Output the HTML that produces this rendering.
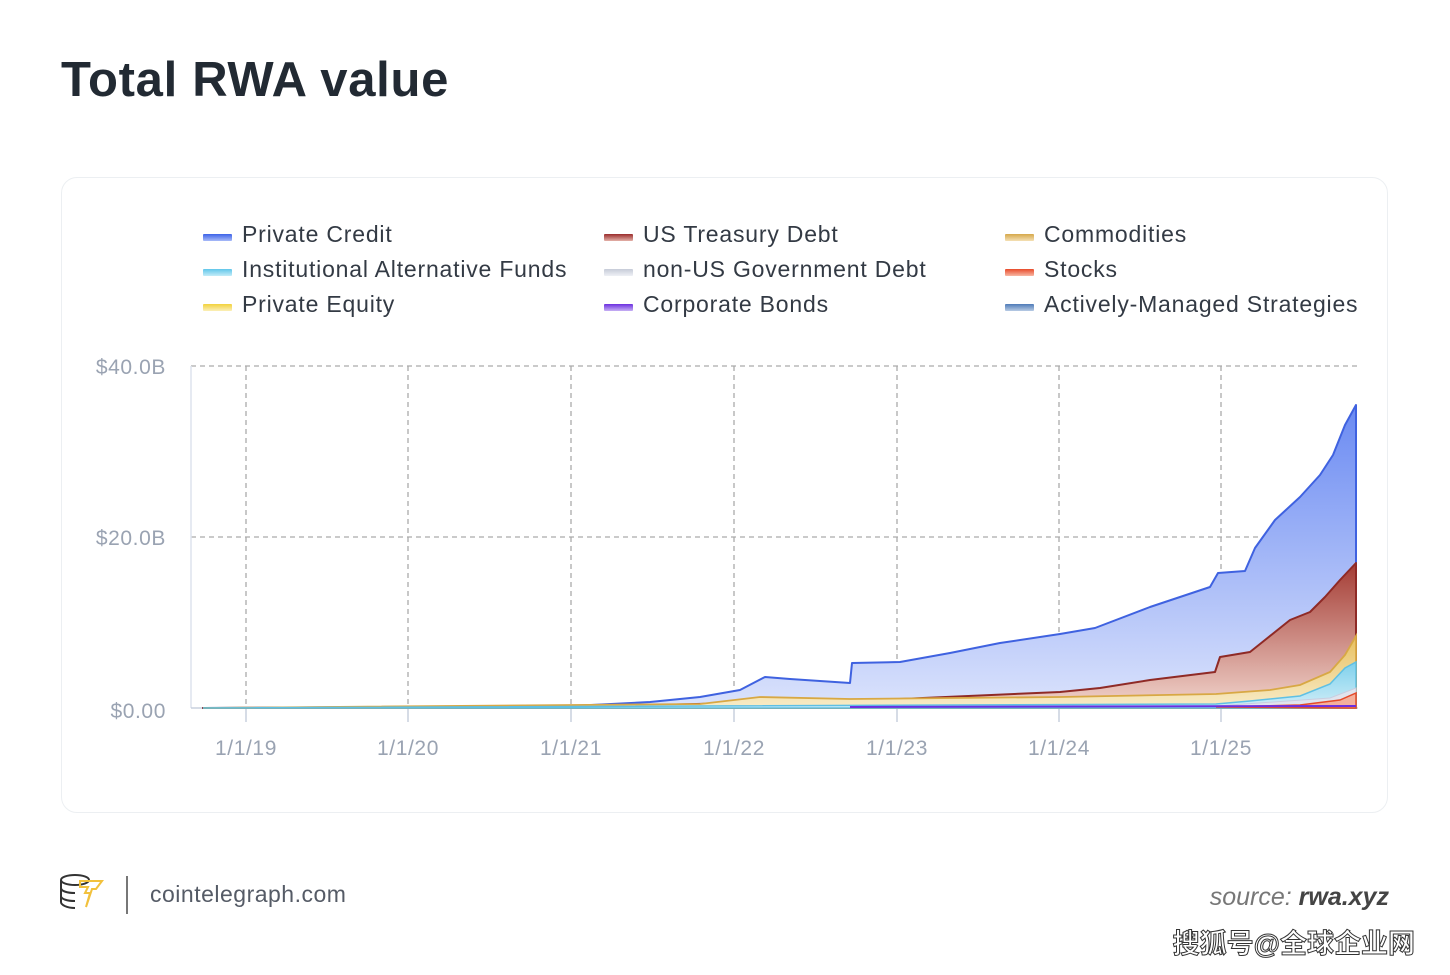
<!DOCTYPE html>
<html><head><meta charset="utf-8"><style>
body{margin:0;width:1450px;height:975px;background:#fff;font-family:"Liberation Sans",sans-serif;position:relative;overflow:hidden}
.t{position:absolute;left:61px;top:52px;font-size:49px;font-weight:bold;color:#222a33;letter-spacing:0.7px}
.card{position:absolute;left:61px;top:177px;width:1327px;height:636px;border:1.5px solid #eceff2;border-radius:16px;box-sizing:border-box}
.lg{position:absolute;font-size:23px;color:#333a44;letter-spacing:0.8px}
.sw{position:absolute;width:29px;height:7px;border-radius:1px}
</style></head><body>
<div class="t">Total RWA value</div>
<div class="card"></div>
<div class="sw" style="left:203px;top:234px;background:linear-gradient(#3d63e8,#a8baf8)"></div><div class="lg" style="left:242px;top:221px">Private Credit</div>
<div class="sw" style="left:203px;top:269px;background:linear-gradient(#60c6ea,#c3ecf8)"></div><div class="lg" style="left:242px;top:256px">Institutional Alternative Funds</div>
<div class="sw" style="left:203px;top:304px;background:linear-gradient(#f2d23c,#fbefb8)"></div><div class="lg" style="left:242px;top:291px">Private Equity</div>
<div class="sw" style="left:604px;top:234px;background:linear-gradient(#9a2c2c,#e3b1a8)"></div><div class="lg" style="left:643px;top:221px">US Treasury Debt</div>
<div class="sw" style="left:604px;top:269px;background:linear-gradient(#c6cbd8,#eef0f5)"></div><div class="lg" style="left:643px;top:256px">non-US Government Debt</div>
<div class="sw" style="left:604px;top:304px;background:linear-gradient(#6b2fe0,#c6b0f4)"></div><div class="lg" style="left:643px;top:291px">Corporate Bonds</div>
<div class="sw" style="left:1005px;top:234px;background:linear-gradient(#d6a84a,#f4e0b5)"></div><div class="lg" style="left:1044px;top:221px">Commodities</div>
<div class="sw" style="left:1005px;top:269px;background:linear-gradient(#e84a2a,#f8b8a4)"></div><div class="lg" style="left:1044px;top:256px">Stocks</div>
<div class="sw" style="left:1005px;top:304px;background:linear-gradient(#4f7bb8,#b8cbe4)"></div><div class="lg" style="left:1044px;top:291px">Actively-Managed Strategies</div>
<svg width="1450" height="975" style="position:absolute;left:0;top:0">
<defs>
<linearGradient id="gb" x1="0" y1="0" x2="0" y2="1"><stop offset="0" stop-color="#6a8af2"/><stop offset="1" stop-color="#dbe3fc"/></linearGradient>
<linearGradient id="gr" x1="0" y1="0" x2="0" y2="1"><stop offset="0" stop-color="#a43c34"/><stop offset="1" stop-color="#f1d4cc"/></linearGradient>
<linearGradient id="gy" x1="0" y1="0" x2="0" y2="1"><stop offset="0" stop-color="#e8c060"/><stop offset="1" stop-color="#f8ecc8"/></linearGradient>
<linearGradient id="gc" x1="0" y1="0" x2="0" y2="1"><stop offset="0" stop-color="#7ed0ec"/><stop offset="1" stop-color="#d0eef8"/></linearGradient>
</defs>
<g stroke="#aaa" stroke-width="1.3" stroke-dasharray="5,4" fill="none">
<line x1="191" y1="366" x2="1358" y2="366"/><line x1="191" y1="537" x2="1358" y2="537"/>
<line x1="246" y1="366" x2="246" y2="708"/><line x1="408" y1="366" x2="408" y2="708"/><line x1="571" y1="366" x2="571" y2="708"/><line x1="734" y1="366" x2="734" y2="708"/><line x1="897" y1="366" x2="897" y2="708"/><line x1="1059" y1="366" x2="1059" y2="708"/><line x1="1221" y1="366" x2="1221" y2="708"/>
</g>
<line x1="191" y1="366" x2="191" y2="708" stroke="#dde3ee" stroke-width="1.5"/>
<line x1="191" y1="708" x2="1358" y2="708" stroke="#c8d0de" stroke-width="1.5"/>
<g stroke="#c8d0de" stroke-width="1.5"><line x1="246" y1="708" x2="246" y2="722"/><line x1="408" y1="708" x2="408" y2="722"/><line x1="571" y1="708" x2="571" y2="722"/><line x1="734" y1="708" x2="734" y2="722"/><line x1="897" y1="708" x2="897" y2="722"/><line x1="1059" y1="708" x2="1059" y2="722"/><line x1="1221" y1="708" x2="1221" y2="722"/></g>
<polygon fill="url(#gb)" stroke="#3f62e0" stroke-width="2" stroke-linejoin="round" points="203,708 571,706 650,702 700,697 740,690 765,677 790,679 850,683 852,663 900,662 950,653 1000,643 1060,634 1095,628 1150,607 1210,587 1218,573 1245,571 1255,548 1275,520 1300,497 1320,475 1333,455 1345,425 1356,405 1356,708"/>
<polygon fill="url(#gr)" stroke="#8f2a26" stroke-width="2" stroke-linejoin="round" points="203,708 571,707 900,699 1060,692 1100,688 1150,680 1215,672 1220,657 1250,652 1265,640 1290,620 1310,612 1325,597 1340,580 1356,563 1356,708"/>
<polygon fill="url(#gy)" stroke="#d8a844" stroke-width="1.8" points="203,708 700,704 760,697 850,699 1060,697 1216,694 1270,690 1300,685 1330,672 1345,655 1356,636 1356,708"/>
<polygon fill="url(#gc)" stroke="#5ec0e4" stroke-width="1.5" points="203,708 1216,704 1250,701 1300,696 1330,684 1345,668 1356,662 1356,708"/>
<polygon fill="#e0e4ee" stroke="#c8cee0" points="1216,706 1330,698 1356,688 1356,708"/>
<polygon fill="#f4b09c" stroke="#e44a2a" stroke-width="1.5" points="1216,707 1300,705 1340,700 1356,693 1356,708"/>
<line x1="850" y1="707" x2="1356" y2="706" stroke="#6b2fe0" stroke-width="2"/>
<g font-size="21" fill="#9aa3b2" font-family="Liberation Sans,sans-serif" letter-spacing="0.6">
<text x="166" y="374" text-anchor="end">$40.0B</text><text x="166" y="545" text-anchor="end">$20.0B</text><text x="166" y="718" text-anchor="end">$0.00</text>
<g text-anchor="middle"><text x="246" y="755">1/1/19</text><text x="408" y="755">1/1/20</text><text x="571" y="755">1/1/21</text><text x="734" y="755">1/1/22</text><text x="897" y="755">1/1/23</text><text x="1059" y="755">1/1/24</text><text x="1221" y="755">1/1/25</text></g>
</g>
<g fill="none" stroke="#333" stroke-width="2"><ellipse cx="75" cy="880" rx="14" ry="5"/><path d="M61 880v22c0 3 6 6 14 6M61 888c0 3 6 5 14 5M61 896c0 3 6 5 14 5"/></g>
<path d="M80 881h22l-6 8h-4l-6 18 4-14h-5l3-6h-8z" fill="none" stroke="#f2c13c" stroke-width="2"/>
<line x1="127" y1="876" x2="127" y2="914" stroke="#777" stroke-width="2"/>
<text x="150" y="902" font-size="23" fill="#555b66" font-family="Liberation Sans,sans-serif" letter-spacing="0.5">cointelegraph.com</text>
<text x="1389" y="905" font-size="25" text-anchor="end" fill="#444" font-style="italic" font-family="Liberation Sans,sans-serif"><tspan fill="#777">source: </tspan><tspan font-weight="bold">rwa.xyz</tspan></text>
<text x="1415" y="953" font-size="27" text-anchor="end" fill="#fff" stroke="#333" stroke-width="1" font-weight="bold" font-family="Liberation Sans,'Noto Sans CJK SC',sans-serif">搜狐号@全球企业网</text>
</svg>
</body></html>
